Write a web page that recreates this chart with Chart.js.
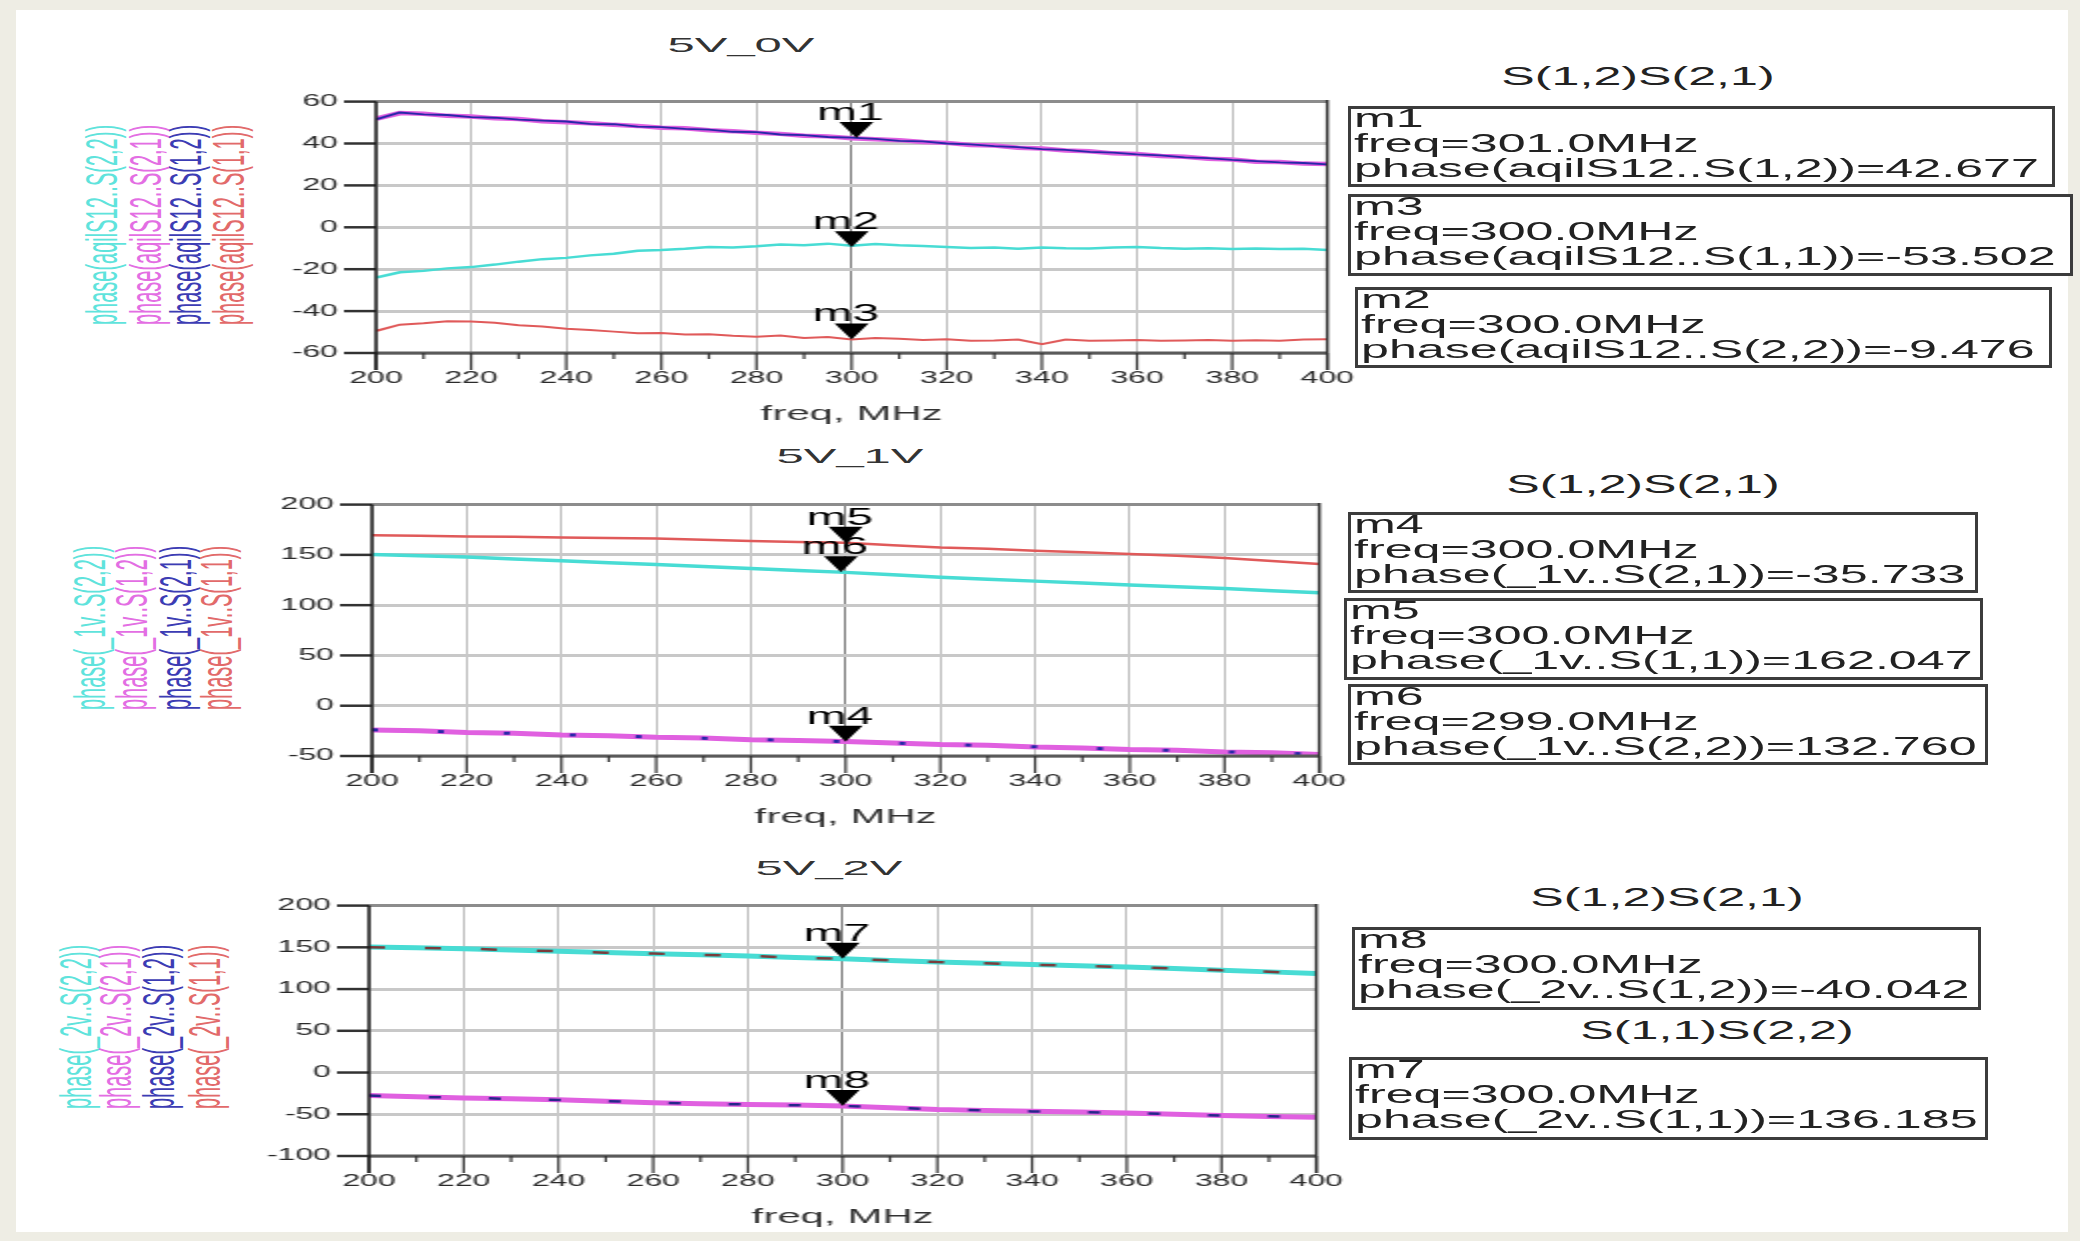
<!DOCTYPE html>
<html>
<head>
<meta charset="utf-8">
<title>S-parameter phase</title>
<script src="https://cdn.jsdelivr.net/npm/chart.js@4.4.0/dist/chart.umd.min.js"></script>
<style>
  html, body { margin: 0; padding: 0; }
  body { width: 2080px; height: 1241px; background: #eeede4; position: relative; overflow: hidden;
         font-family: "Liberation Sans", Arial, sans-serif; }
  #sheet { position: absolute; left: 16px; top: 10px; width: 2052px; height: 1222px; background: #fff; }
  .plot { position: absolute; transform-origin: 0 0; transform: scaleX(2); }
  .txt { position: absolute; white-space: pre; transform-origin: 50% 50%; line-height: 1.15; }
  .box { position: absolute; box-sizing: border-box; border: 3px solid #3c3c3c; background: #fff; }
  .box div { position: absolute; left: 3px; top: -3px; white-space: pre; font-size: 26px; line-height: 25px;
             color: #222; transform-origin: 0 0; transform: scaleX(1.93); }
</style>
</head>
<body>
<div id="sheet"></div>
<script>
// frequency axis, MHz
const freq5 = [200,205,210,215,220,225,230,235,240,245,250,255,260,265,270,275,280,285,290,295,300,
               305,310,315,320,325,330,335,340,345,350,355,360,365,370,375,380,385,390,395,400];
const freq10 = [200,210,220,230,240,250,260,270,280,290,300,310,320,330,340,350,360,370,380,390,400];

// 5V_0V (aqilS12), degrees
const v0S12 = [51.5,54.8,53.9,53.6,52.6,52.3,51.4,50.9,50.5,49.4,49.2,48.1,47.8,47.0,46.6,45.6,45.4,44.3,44.0,43.1,42.8,
               42.2,41.3,41.0,40.0,39.6,38.7,38.3,37.3,37.0,36.0,35.6,34.8,34.3,33.4,33.0,32.2,31.6,31.0,30.7,30.0];
const v0S21 = [51.8,54.5,54.2,53.2,52.9,52.0,51.7,50.6,50.2,49.7,48.9,48.4,47.5,47.3,46.3,45.9,45.1,44.6,43.7,43.4,42.5,
               42.0,41.6,40.7,40.3,39.3,39.0,38.0,37.6,36.7,36.3,35.3,35.0,34.0,33.7,32.7,32.4,31.3,31.2,30.4,30.2];
const v0S22 = [-24.0,-21.5,-20.8,-19.6,-19.0,-17.8,-16.4,-15.2,-14.6,-13.4,-12.6,-11.2,-10.8,-10.2,-9.4,-9.6,-9.0,-8.2,-8.6,-7.8,-8.8,
               -8.0,-8.6,-8.9,-9.4,-9.9,-9.6,-10.2,-9.6,-10.0,-10.1,-9.7,-9.4,-9.9,-10.2,-10.0,-10.3,-10.1,-10.4,-10.2,-10.8];
const v0S11 = [-49.5,-46.5,-45.8,-44.8,-45.0,-45.6,-46.8,-47.4,-48.4,-49.0,-49.8,-50.6,-50.4,-51.2,-51.0,-51.8,-52.2,-51.6,-52.8,-52.4,-53.5,
               -52.8,-53.2,-53.8,-53.4,-54.2,-54.0,-53.6,-55.8,-53.6,-54.2,-54.0,-53.8,-54.2,-54.0,-53.8,-54.2,-53.9,-54.1,-53.6,-53.4];

// 5V_1V (_1v)
const v1S11 = [169.5,169.0,168.4,168.0,167.4,166.8,166.2,165.0,163.8,162.8,162.0,159.6,157.4,156.0,154.2,152.6,150.8,149.2,147.0,144.0,141.0];
const v1S22 = [150.5,149.2,147.8,146.0,144.2,142.2,140.4,138.4,136.4,134.4,132.6,130.2,127.8,125.8,123.9,122.0,120.0,118.4,116.6,114.4,112.4];
const v1S12 = [-24.2,-25.0,-26.6,-27.4,-29.0,-29.8,-31.3,-32.2,-33.8,-34.5,-35.7,-37.0,-38.6,-39.4,-41.0,-42.0,-43.6,-44.4,-46.0,-46.8,-48.4];
const v1S21 = [-24.0,-25.2,-26.4,-27.6,-28.8,-30.0,-31.2,-32.4,-33.6,-34.6,-35.7,-37.2,-38.5,-39.6,-40.8,-42.2,-43.4,-44.6,-45.8,-47.0,-48.2];

// 5V_2V (_2v)
const v2S22 = [150.4,149.6,148.4,146.8,145.2,143.8,142.4,141.0,139.6,137.8,136.2,134.2,132.5,130.8,129.3,127.8,126.4,124.6,122.6,120.6,118.6];
const v2S11 = [150.2,149.4,148.6,146.6,145.4,143.6,142.6,140.8,139.8,137.6,136.2,134.4,132.3,131.0,129.1,128.0,126.2,124.8,122.4,120.8,118.4];
const v2S21 = [-27.5,-29.0,-30.4,-31.4,-32.6,-34.4,-36.2,-37.4,-38.4,-39.0,-40.0,-42.2,-44.2,-45.4,-46.4,-47.4,-48.4,-50.0,-51.4,-52.6,-53.5];
const v2S12 = [-27.6,-29.2,-30.2,-31.6,-32.8,-34.2,-36.0,-37.6,-38.2,-39.2,-40.0,-42.0,-44.4,-45.2,-46.6,-47.2,-48.6,-49.8,-51.6,-52.4,-53.6];

// markers: name, trace, freq, value
const mk0Names = ["m1", "m3", "m2"];
const mk0Trace = ["S(1,2)", "S(1,1)", "S(2,2)"];
const mk0Freq = [301, 300, 300];
const mk0Value = [42.677, -53.502, -9.476];

const mk1Names = ["m4", "m5", "m6"];
const mk1Trace = ["S(2,1)", "S(1,1)", "S(2,2)"];
const mk1Freq = [300, 300, 299];
const mk1Value = [-35.733, 162.047, 132.760];

const mk2Names = ["m8", "m7"];
const mk2Trace = ["S(1,2)", "S(1,1)"];
const mk2Freq = [300, 300];
const mk2Value = [-40.042, 136.185];

const CYAN = "#48dcd4", MAGENTA = "#e060e0", BLUE = "#2828a8", RED = "#e05a5a";
const FONT = "'Liberation Sans', Arial, sans-serif";

// ticks, frame and marker triangles, drawn from the chart's own scales
const adsDeco = {
    id: "adsDeco",
    afterDraw(chart, args, opts) {
        const ctx = chart.ctx;
        const {left, right, top, bottom} = chart.chartArea;
        const xs = chart.scales.x, ys = chart.scales.y;

        function seg(x1, y1, x2, y2) {
            ctx.beginPath();
            ctx.moveTo(x1, y1);
            ctx.lineTo(x2, y2);
            ctx.stroke();
        }

        ctx.save();
        ctx.lineCap = "butt";

        // frame
        ctx.strokeStyle = "#8c8c8c";
        ctx.lineWidth = 3;
        seg(left, top, right, top);
        ctx.strokeStyle = "#5a5a5a";
        seg(left, bottom, right, bottom);

        // y ticks
        ctx.strokeStyle = "#333";
        ctx.lineWidth = 2.5;
        ys.ticks.forEach(t => {
            const y = ys.getPixelForValue(t.value);
            seg(left - 16, y, left, y);
        });
        if (opts.yMinor) {
            for (let v = ys.min + opts.yMinor; v < ys.max; v += 2 * opts.yMinor) {
                const y = ys.getPixelForValue(v);
                seg(left - 5, y, left, y);
            }
        }

        // x ticks
        ctx.lineWidth = 1.2;
        xs.ticks.forEach(t => {
            const x = xs.getPixelForValue(t.value);
            seg(x, bottom, x, bottom + 17);
        });
        for (let v = xs.min + 10; v < xs.max; v += 20) {
            const x = xs.getPixelForValue(v);
            seg(x, bottom, x, bottom + 6);
        }

        // left axis and right edge
        ctx.strokeStyle = "#1a1a1a";
        ctx.lineWidth = 1.5;
        seg(left, top, left, bottom + 17);
        ctx.strokeStyle = "#303030";
        seg(right, top - 1.5, right, bottom + 17);

        // markers
        ctx.fillStyle = "#000";
        ctx.font = "24px " + FONT;
        ctx.textAlign = "center";
        ctx.textBaseline = "alphabetic";
        opts.names.forEach((name, i) => {
            const px = xs.getPixelForValue(opts.freq[i]);
            const py = ys.getPixelForValue(opts.value[i]);
            ctx.beginPath();
            ctx.moveTo(px, py);
            ctx.lineTo(px - 8.5, py - 16);
            ctx.lineTo(px + 8.5, py - 16);
            ctx.closePath();
            ctx.fill();
            ctx.fillText(name, px - 3, py - 18);
        });
        ctx.restore();
    }
};

function makePlot(left, top, width, height, traces, yMin, yMax, yStep, yMinor, markers) {
    const wrap = document.createElement("div");
    wrap.className = "plot";
    wrap.style.left = left + "px";
    wrap.style.top = top + "px";
    const canvas = document.createElement("canvas");
    canvas.width = width;
    canvas.height = height;
    wrap.appendChild(canvas);
    document.body.appendChild(wrap);

    new Chart(canvas, {
        type: "line",
        data: {
            datasets: traces.map(t => ({
                data: t.x.map((f, i) => ({x: f, y: t.y[i]})),
                borderColor: t.color,
                borderWidth: t.width,
                borderDash: t.dash || [],
                order: t.order,
                pointRadius: 0,
                tension: 0,
                fill: false
            }))
        },
        options: {
            responsive: false,
            animation: false,
            devicePixelRatio: 1,
            events: [],
            layout: { padding: { left: 0, right: 20, top: 15, bottom: 0 } },
            plugins: {
                legend: { display: false },
                tooltip: { enabled: false },
                adsDeco: markers
            },
            scales: {
                x: {
                    type: "linear",
                    min: 200,
                    max: 400,
                    afterFit: s => { s.height = 75; },
                    border: { display: false },
                    grid: {
                        drawTicks: false,
                        lineWidth: 1,
                        color: c => (c.tick && c.tick.value === 300) ? "#7a7a7a" : "#bdbdbd"
                    },
                    ticks: {
                        stepSize: 20,
                        autoSkip: false,
                        maxRotation: 0,
                        padding: 16,
                        color: "#2a2a2a",
                        font: { family: FONT, size: 16 }
                    },
                    title: {
                        display: true,
                        text: "freq, MHz",
                        color: "#333",
                        font: { family: FONT, size: 21 },
                        padding: { top: 0, bottom: 1 }
                    }
                },
                y: {
                    min: yMin,
                    max: yMax,
                    afterFit: s => { s.width = 60; },
                    border: { display: false },
                    grid: { drawTicks: false, lineWidth: 3, color: "#c8c8c8" },
                    ticks: {
                        stepSize: yStep,
                        padding: 19,
                        color: "#2a2a2a",
                        font: { family: FONT, size: 16 }
                    }
                }
            }
        },
        plugins: [adsDeco]
    });
}

function addText(text, cx, cy, size, k, color, rotate) {
    const d = document.createElement("div");
    d.className = "txt";
    d.textContent = text;
    d.style.left = cx + "px";
    d.style.top = cy + "px";
    d.style.fontSize = size + "px";
    d.style.color = color;
    d.style.transform = "translate(-50%, -50%) scaleX(" + k + ")" + (rotate ? " rotate(-90deg)" : "");
    document.body.appendChild(d);
}

function addBoxes(prefix, names, trace, freq, value, rects) {
    names.forEach((name, i) => {
        const r = rects[i];
        const box = document.createElement("div");
        box.className = "box";
        box.style.left = r[0] + "px";
        box.style.top = r[1] + "px";
        box.style.width = r[2] + "px";
        box.style.height = r[3] + "px";
        const inner = document.createElement("div");
        inner.textContent = name + "\nfreq=" + freq[i].toFixed(1) + "MHz\nphase(" + prefix + ".." + trace[i] + ")=" + value[i].toFixed(3);
        box.appendChild(inner);
        document.body.appendChild(box);
    });
}

function addLegend(prefix, labels, colors, xs, cy) {
    labels.forEach((lab, i) => addText("phase(" + prefix + ".." + lab + ")", xs[i], cy, 20, 2.2, colors[i], true));
}

const legendColors = ["#5fe3dc", "#e36ee3", "#3c3cb4", "#e26a6a"];

// 5V_0V
addText("5V_0V", 741, 45, 21, 2.33, "#333");
addLegend("aqilS12", ["S(2,2)", "S(2,1)", "S(1,2)", "S(1,1)"], legendColors, [103, 147, 187, 230], 225);
makePlot(256, 73, 565, 355, [
    {x: freq5, y: v0S12, color: BLUE, width: 1.8, order: 1},
    {x: freq5, y: v0S21, color: MAGENTA, width: 4.5, order: 2},
    {x: freq5, y: v0S22, color: CYAN, width: 2.5, order: 3},
    {x: freq5, y: v0S11, color: RED, width: 2, order: 4}
], -60, 60, 20, 10, {names: mk0Names, freq: mk0Freq, value: mk0Value});
addText("S(1,2)S(2,1)", 1638, 77, 26, 1.93, "#222");
addBoxes("aqilS12", mk0Names, mk0Trace, mk0Freq, mk0Value,
    [[1348, 106, 707, 81], [1348, 194, 725, 82], [1355, 287, 697, 81]]);

// 5V_1V
addText("5V_1V", 850, 456, 21, 2.33, "#333");
addLegend("_1v", ["S(2,2)", "S(1,2)", "S(2,1)", "S(1,1)"], legendColors, [91, 133, 177, 218], 628);
makePlot(252, 476, 563, 355, [
    {x: freq10, y: v1S21, color: BLUE, width: 3, dash: [3, 30], order: 1},
    {x: freq10, y: v1S12, color: MAGENTA, width: 5, order: 2},
    {x: freq10, y: v1S22, color: CYAN, width: 3.5, order: 3},
    {x: freq10, y: v1S11, color: RED, width: 2.5, order: 4}
], -50, 200, 50, null, {names: mk1Names, freq: mk1Freq, value: mk1Value});
addText("S(1,2)S(2,1)", 1643, 485, 26, 1.93, "#222");
addBoxes("_1v", mk1Names, mk1Trace, mk1Freq, mk1Value,
    [[1348, 512, 630, 81], [1344, 598, 639, 82], [1348, 684, 640, 81]]);

// 5V_2V
addText("5V_2V", 829, 868, 21, 2.33, "#333");
addLegend("_2v", ["S(2,2)", "S(2,1)", "S(1,2)", "S(1,1)"], legendColors, [77, 117, 160, 206], 1027);
makePlot(249, 877, 563, 354, [
    {x: freq10, y: v2S11, color: "#7a3c3c", width: 2.5, dash: [8, 20], order: 1},
    {x: freq10, y: v2S12, color: "#26268a", width: 2.5, dash: [6, 24], order: 2},
    {x: freq10, y: v2S22, color: CYAN, width: 5, order: 3},
    {x: freq10, y: v2S21, color: MAGENTA, width: 5, order: 4}
], -100, 200, 50, null, {names: mk2Names, freq: mk2Freq, value: mk2Value});
addText("S(1,2)S(2,1)", 1667, 898, 26, 1.93, "#222");
addText("S(1,1)S(2,2)", 1717, 1031, 26, 1.93, "#222");
addBoxes("_2v", mk2Names, mk2Trace, mk2Freq, mk2Value,
    [[1352, 927, 629, 83], [1349, 1057, 639, 83]]);
</script>
</body>
</html>
